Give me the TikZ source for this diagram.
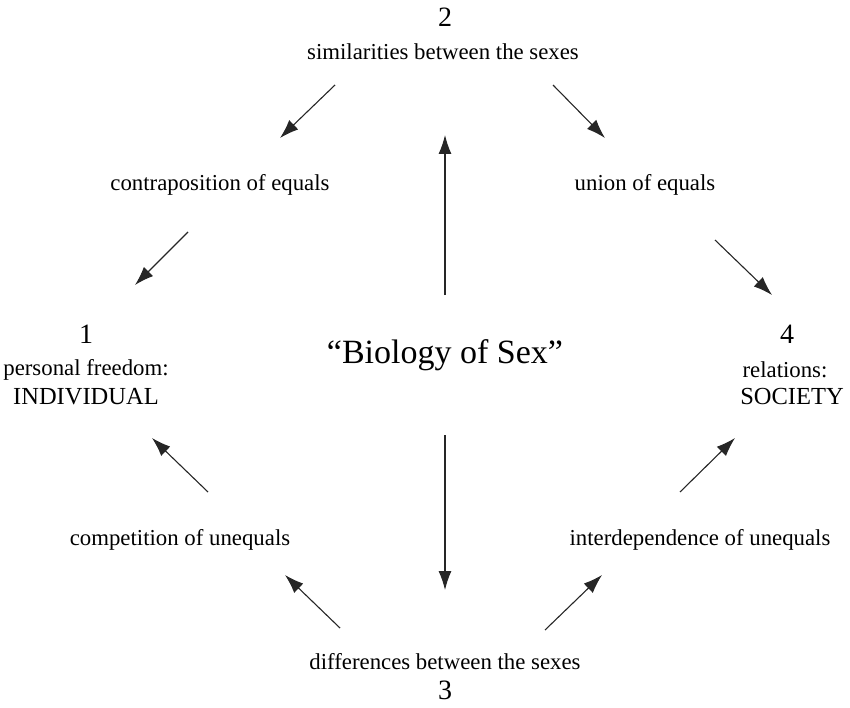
\documentclass[tikz,border=0pt]{standalone}
\usepackage{fontspec}
\setmainfont{Liberation Serif}
\usetikzlibrary{arrows.meta}
\tikzset{
  lbl/.style={inner sep=0pt, font=\fontsize{22.8}{27}\selectfont, align=center},
  caps/.style={inner sep=0pt, font=\fontsize{24.5}{28}\selectfont},
  num/.style={inner sep=0pt, font=\fontsize{28}{31}\selectfont},
  big/.style={inner sep=0pt, font=\fontsize{34}{38}\selectfont},
  arr/.style={draw=black!85, line width=1.1pt, -{Latex[length=19pt,width=13pt]}},
}
\begin{document}
\begin{tikzpicture}[x=1pt,y=-1pt]
\useasboundingbox (0,0) rectangle (850,708);
% texts
\node[num] (n2) at (445,17) {2};
\node[lbl] (t2) at (443,52) {similarities between the sexes};
\node[lbl] (ce) at (220,185) {contraposition of equals};
\node[lbl] (ue) at (645,185) {union of equals};
\node[num] (n1) at (86,334) {1};
\node[lbl] (t1a) at (86,370) {personal freedom:};
\node[caps] (t1b) at (86,397) {INDIVIDUAL};
\node[num] (n4) at (787,334) {4};
\node[lbl] (t4a) at (785,370) {relations:};
\node[caps] (t4b) at (792,397) {SOCIETY};
\node[big] (bio) at (445,355) {“Biology of Sex”};
\node[lbl] (cu) at (180,540) {competition of unequals};
\node[lbl] (iu) at (700,540) {interdependence of unequals};
\node[lbl] (t3) at (445,662) {differences between the sexes};
\node[num] (n3) at (445,690) {3};
% arrow end points
\coordinate (a1s) at (335,85);  \coordinate (a1e) at (280,138);
\coordinate (a2s) at (188,232); \coordinate (a2e) at (135,285);
\coordinate (a3s) at (553,85);  \coordinate (a3e) at (605,138);
\coordinate (a4s) at (715,240); \coordinate (a4e) at (772,295);
\coordinate (a5s) at (208,492); \coordinate (a5e) at (152,438);
\coordinate (a6s) at (340,628); \coordinate (a6e) at (285,575);
\coordinate (a7s) at (680,492); \coordinate (a7e) at (735,438);
\coordinate (a8s) at (545,630); \coordinate (a8e) at (602,575);
\coordinate (cus) at (445,295); \coordinate (cue) at (445,135);
\coordinate (cds) at (445,435); \coordinate (cde) at (445,590);
\draw[arr] (a1s) -- (a1e);
\draw[arr] (a2s) -- (a2e);
\draw[arr] (a3s) -- (a3e);
\draw[arr] (a4s) -- (a4e);
\draw[arr] (a5s) -- (a5e);
\draw[arr] (a6s) -- (a6e);
\draw[arr] (a7s) -- (a7e);
\draw[arr] (a8s) -- (a8e);
\draw[arr] (cus) -- (cue);
\draw[arr] (cds) -- (cde);
\end{tikzpicture}
\end{document}
